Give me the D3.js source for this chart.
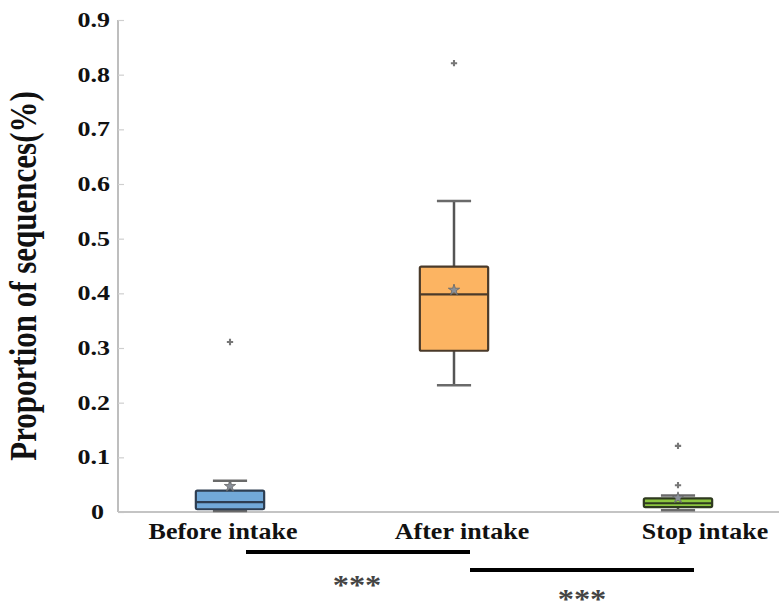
<!DOCTYPE html>
<html>
<head>
<meta charset="utf-8">
<script src="https://cdn.jsdelivr.net/npm/d3@7"></script>
<style>
  html, body { margin: 0; padding: 0; background: #fff; }
  svg { display: block; }
  text { font-family: "Liberation Serif", "Times New Roman", serif; font-weight: bold; }
</style>
</head>
<body>
<svg id="chart" width="779" height="610"></svg>
<script>
// Groups and their box-plot summaries (proportion of sequences)
const categories = ["Before intake", "After intake", "Stop intake"];
const whiskerLow  = [0.002, 0.232, 0.003];
const q1          = [0.005, 0.295, 0.009];
const median      = [0.018, 0.398, 0.016];
const q3          = [0.039, 0.449, 0.025];
const whiskerHigh = [0.057, 0.569, 0.030];
const means       = [0.047, 0.406, 0.026];
const outliers    = [[0.311], [0.821], [0.049, 0.121]];
const yTicks      = [0, 0.1, 0.2, 0.3, 0.4, 0.5, 0.6, 0.7, 0.8, 0.9];
const fills       = ["#72a9d9", "#fcb462", "#8dc640"];
const strokes     = ["#2e3e52", "#4a3a2a", "#2f3a1f"];
// Significance comparisons between neighbouring groups
const comparisons = [
  { from: "Before intake", to: "After intake", label: "***" },
  { from: "After intake",  to: "Stop intake",  label: "***" }
];

const groups = categories.map((c, i) => ({
  name: c, lo: whiskerLow[i], q1: q1[i], med: median[i], q3: q3[i],
  hi: whiskerHigh[i], mean: means[i], out: outliers[i],
  fill: fills[i], stroke: strokes[i]
}));

const svg = d3.select("#chart");
const plotLeft = 118, plotRight = 790, plotTop = 20, plotBottom = 512;

const x = d3.scaleBand().domain(categories).range([plotLeft, plotRight]);
const y = d3.scaleLinear().domain([0, 0.9]).range([plotBottom, plotTop]);
const boxW = x.bandwidth() * 0.305;
const cx = d => x(d) + x.bandwidth() / 2;

// Y axis
const yAxis = d3.axisRight(y).tickValues(yTicks).tickSize(6).tickFormat("");
const ya = svg.append("g").attr("transform", `translate(${plotLeft},0)`).call(yAxis);
ya.select(".domain").attr("stroke", "#a8a8a8").attr("stroke-width", 1.5).attr("d", `M0,${plotBottom}V${plotTop}`);
ya.selectAll(".tick line").attr("stroke", "#cfcfcf").attr("stroke-width", 1.2);

// Y tick labels (horizontally widened bold serif)
svg.append("g").selectAll("text").data(yTicks).join("text")
  .attr("text-anchor", "end")
  .attr("transform", d => `translate(${d === 0 ? 104 : 110},${y(d) + 7}) scale(1.3,1)`)
  .attr("font-size", 20)
  .attr("fill", "#111")
  .text(d => d === 0 ? "0" : d3.format(".1f")(d));

// Y axis title
svg.append("text")
  .attr("transform", `translate(36,276) scale(1.25,1) rotate(-90)`)
  .attr("text-anchor", "middle")
  .attr("font-size", 31)
  .attr("fill", "#111")
  .text("Proportion of sequences(%)");

// X axis line
svg.append("line")
  .attr("x1", plotLeft).attr("x2", 779)
  .attr("y1", plotBottom).attr("y2", plotBottom)
  .attr("stroke", "#c4c4c4").attr("stroke-width", 2);

// Category labels
const labelShift = [-7, 8, 27];
svg.append("g").selectAll("text").data(categories).join("text")
  .attr("text-anchor", "middle")
  .attr("transform", (d, i) => `translate(${cx(d) + labelShift[i]},539) scale(1.13,1)`)
  .attr("font-size", 23)
  .attr("fill", "#111")
  .text(d => d);

// Boxes
const g = svg.append("g").selectAll("g").data(groups).join("g");
const capW = boxW / 2;

g.append("line") // whisker
  .attr("x1", d => cx(d.name)).attr("x2", d => cx(d.name))
  .attr("y1", d => y(d.lo)).attr("y2", d => y(d.hi))
  .attr("stroke", "#555").attr("stroke-width", 2.5);
g.append("line")
  .attr("x1", d => cx(d.name) - capW / 2).attr("x2", d => cx(d.name) + capW / 2)
  .attr("y1", d => y(d.hi)).attr("y2", d => y(d.hi))
  .attr("stroke", "#6a6a6a").attr("stroke-width", 2.5);
g.append("line")
  .attr("x1", d => cx(d.name) - capW / 2).attr("x2", d => cx(d.name) + capW / 2)
  .attr("y1", d => y(d.lo)).attr("y2", d => y(d.lo))
  .attr("stroke", "#6a6a6a").attr("stroke-width", 2.5);
g.append("rect")
  .attr("x", d => cx(d.name) - boxW / 2).attr("width", boxW)
  .attr("y", d => y(d.q3)).attr("height", d => y(d.q1) - y(d.q3))
  .attr("rx", 1.5)
  .attr("fill", d => d.fill).attr("stroke", d => d.stroke).attr("stroke-width", 2.2);
g.append("line")
  .attr("x1", d => cx(d.name) - boxW / 2).attr("x2", d => cx(d.name) + boxW / 2)
  .attr("y1", d => y(d.med)).attr("y2", d => y(d.med))
  .attr("stroke", d => d.stroke).attr("stroke-width", 2.2);

// Mean markers
g.append("path")
  .attr("transform", d => `translate(${cx(d.name)},${y(d.mean)})`)
  .attr("d", d3.symbol(d3.symbolStar, 40)())
  .attr("fill", "#8a9099").attr("stroke", "#666").attr("stroke-width", 0.8);

// Outliers
g.selectAll(".out").data(d => d.out.map(v => ({ name: d.name, v }))).join("path")
  .attr("class", "out")
  .attr("transform", d => `translate(${cx(d.name)},${y(d.v)})`)
  .attr("d", d3.symbol(d3.symbolCross, 22)())
  .attr("fill", "#777");

// Significance bars
const barY = [552, 570];
const starY = [594, 608];
comparisons.forEach((c, i) => {
  const x1 = cx(c.from) + 16, x2 = cx(c.to) + 16;
  svg.append("line")
    .attr("x1", x1).attr("x2", x2).attr("y1", barY[i]).attr("y2", barY[i])
    .attr("stroke", "#000").attr("stroke-width", 4);
  svg.append("text")
    .attr("text-anchor", "middle")
    .attr("transform", `translate(${(x1 + x2) / 2 + (i === 0 ? -1 : 0)},${starY[i]}) scale(1.2,1)`)
    .attr("font-size", 27)
    .attr("fill", "#444")
    .text(c.label);
});
</script>
</body>
</html>
